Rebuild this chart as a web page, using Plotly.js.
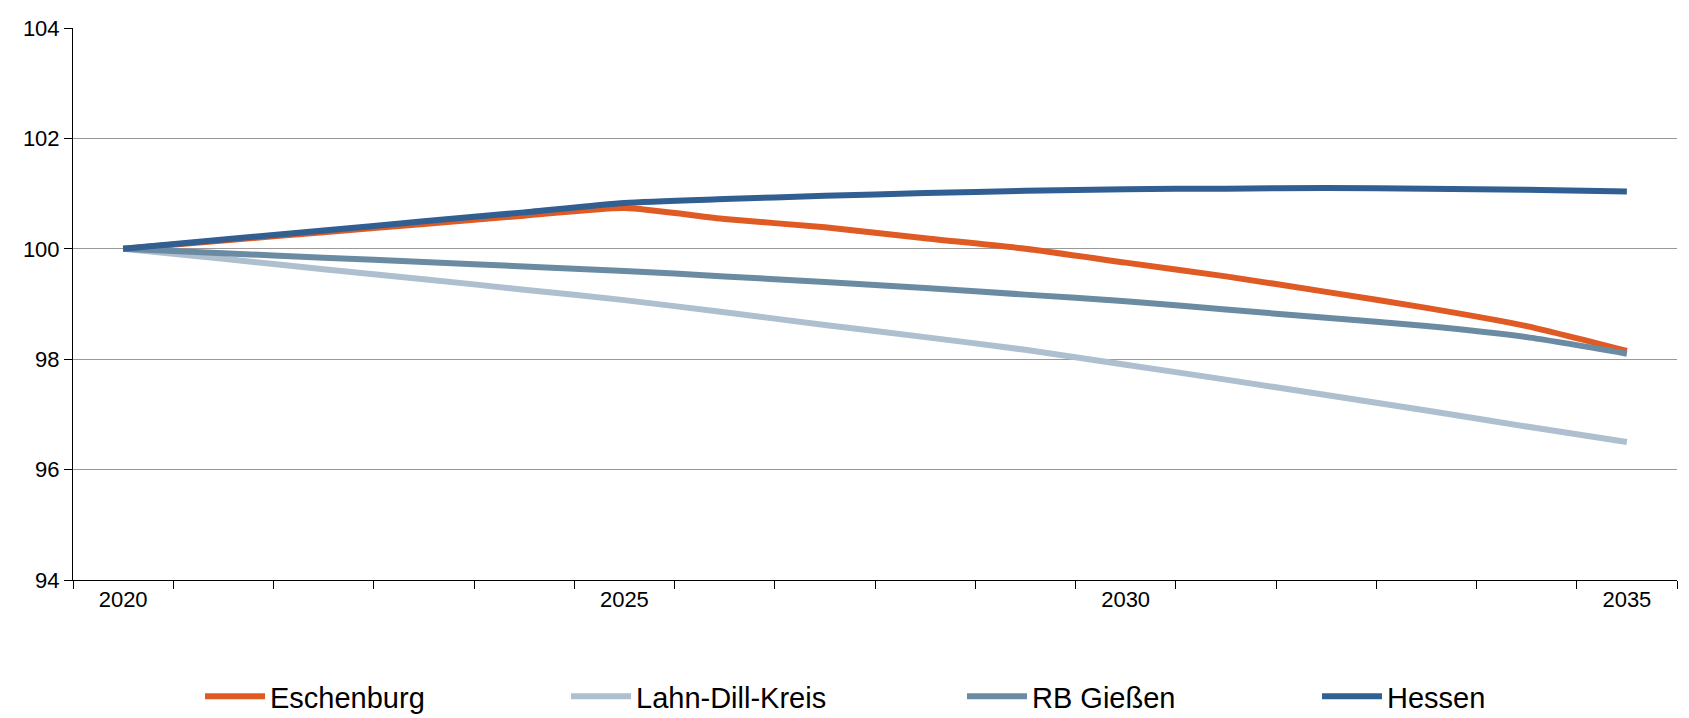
<!DOCTYPE html>
<html><head><meta charset="utf-8">
<script src="https://cdn.plot.ly/plotly-3.0.1.min.js"></script>
<style>body{margin:0;background:#fff}</style></head>
<body><div id="c" style="width:1689px;height:718px"></div>
<script>
const years = ['2020','2021','2022','2023','2024','2025','2026','2027','2028','2029','2030','2031','2032','2033','2034','2035'];
const tickLabels = ['2020','','','','','2025','','','','','2030','','','','','2035'];
const eschenburg = [100,100.15,100.3,100.45,100.6,100.74,100.54,100.39,100.19,100.0,99.75,99.5,99.22,98.93,98.6,98.15];
const lahnDill = [100,99.82,99.63,99.45,99.26,99.07,98.85,98.62,98.4,98.17,97.9,97.63,97.35,97.07,96.78,96.5];
const rbGiessen = [100,99.92,99.84,99.76,99.68,99.6,99.5,99.4,99.29,99.17,99.05,98.9,98.75,98.6,98.4,98.1];
const hessen = [100,100.17,100.33,100.5,100.66,100.83,100.9,100.96,101.01,101.05,101.08,101.09,101.1,101.09,101.07,101.04];
const names = ['Eschenburg','Lahn-Dill-Kreis','RB Gießen','Hessen'];
const colors = ['#E05A24','#AEBFCF','#6B8BA3','#315F92'];
const series = [eschenburg, lahnDill, rbGiessen, hessen];
const legendIds = ['legend','legend2','legend3','legend4'];
const legendX = [200, 566, 962, 1317];
const traces = series.map((s,i)=>({x:years,y:s,name:names[i],type:'scatter',mode:'lines',legend:legendIds[i],
  line:{color:colors[i],width:6,shape:'spline',smoothing:0.6}}));
const layout = {
  width:1689,height:718,paper_bgcolor:'#fff',plot_bgcolor:'#fff',
  margin:{l:73,r:12,t:28,b:138,autoexpand:false},
  font:{family:'Liberation Sans, Arial, sans-serif',color:'#000'},
  showlegend:true,
  xaxis:{type:'category',tickmode:'array',tickvals:years,ticktext:tickLabels,tickson:'boundaries',
    ticks:'outside',ticklen:8,tickcolor:'#000',showline:true,linecolor:'#000',showgrid:false,
    tickfont:{size:22},range:[-0.5,15.5],zeroline:false},
  yaxis:{range:[94,104],dtick:2,ticks:'outside',ticklen:8,tickcolor:'#000',showline:true,linecolor:'#000',
    showgrid:true,gridcolor:'#999',gridwidth:1,tickfont:{size:22},zeroline:false}
};
legendIds.forEach((id,i)=>{
  layout[id] = {orientation:'h',xref:'container',yref:'container',x:legendX[i]/1689,y:0.03,
    xanchor:'left',yanchor:'middle',font:{size:29},itemwidth:60,bgcolor:'rgba(0,0,0,0)'};
});
Plotly.newPlot('c',traces,layout,{displayModeBar:false});
</script></body></html>
